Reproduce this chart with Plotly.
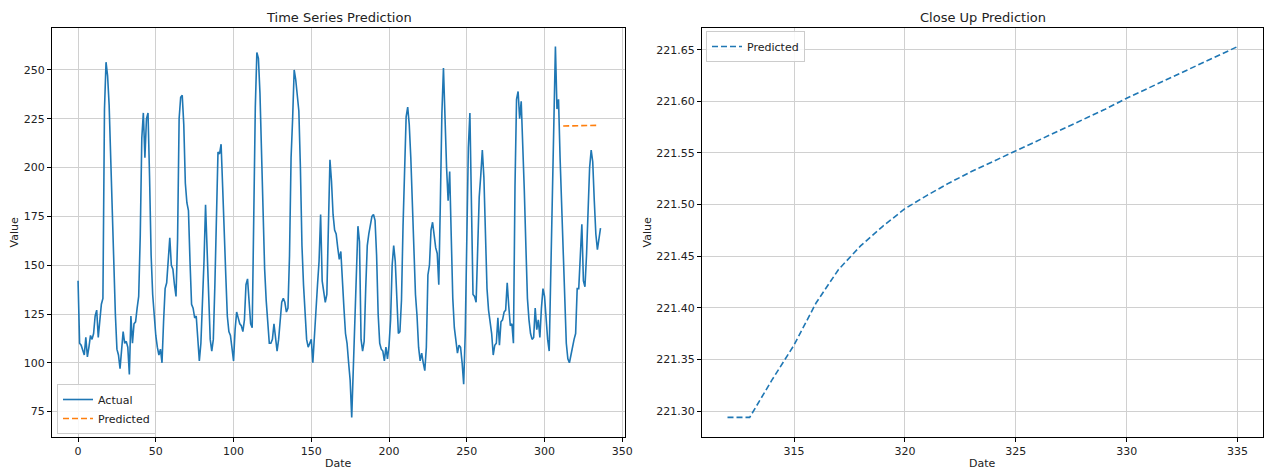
import plotly.graph_objects as go

actual_values = [
    142, 110, 109, 107, 104, 113, 103, 108, 114, 112,
    115, 124, 127, 113, 120, 130, 133, 230, 254, 247,
    232, 205, 172, 145, 125, 107, 104, 97, 106, 116,
    110, 111, 108, 94, 124, 110, 120, 121, 128, 134,
    165, 215, 228, 205, 225, 228, 195, 155, 135, 122,
    114, 108, 104, 107, 100, 121, 138, 141, 155, 164,
    150, 148, 140, 134, 163, 225, 236, 237, 222, 192,
    182, 178, 152, 130, 128, 123, 124, 112, 101, 110,
    130, 152, 181, 156, 128, 112, 106, 112, 140, 172,
    208, 207, 212, 190, 162, 145, 124, 116, 114, 108,
    101, 117, 126, 123, 120, 119, 116, 122, 140, 143,
    128, 120, 118, 185, 231, 259, 256, 238, 205, 172,
    148, 132, 118, 110, 110, 112, 120, 111, 106, 112,
    121, 131, 133, 131, 126, 128, 155, 205, 225, 250,
    245, 238, 229, 200, 160, 140, 126, 112, 108, 110,
    112, 100, 115, 126, 140, 152, 176, 142, 137, 131,
    135, 170, 204, 193, 176, 168, 166, 159, 153, 157,
    138, 128, 115, 110, 100, 91, 72, 95, 122, 150,
    170, 162, 112, 106, 111, 138, 160, 166, 171, 175,
    176, 173, 155, 125, 110, 107, 106, 101, 108, 102,
    109, 122, 150, 160, 152, 129, 115, 116, 132, 170,
    205, 226, 231, 222, 205, 180, 155, 135, 124, 108,
    101, 105, 100, 96, 108, 145, 150, 168, 172, 165,
    159, 156, 140, 182, 228, 251, 218, 200, 183, 198,
    165, 133, 118, 110, 105, 109, 108, 100, 89, 115,
    155, 210, 228, 185, 135, 134, 131, 158, 185, 196,
    209, 195, 165, 138, 127, 120, 115, 104, 109, 110,
    123, 109, 121, 122, 126, 127, 141, 129, 119, 120,
    110, 190, 235, 239, 225, 234, 214, 188, 160, 133,
    122, 115, 112, 113, 128, 117, 122, 113, 128, 138,
    134, 120, 112, 106, 145, 200, 240, 262, 230, 235,
    205, 180, 162, 135, 110, 102, 100, 104, 109, 112,
    115, 138, 138, 156, 171, 142, 139, 155, 180, 200,
    209, 203, 183, 166, 158, 165, 169,
]
actual_dates = list(range(len(actual_values)))

pred_dates = list(range(312, 336))
pred_values = [
    221.294, 221.294, 221.330, 221.364, 221.405, 221.437, 221.460, 221.479,
    221.496, 221.509, 221.521, 221.532, 221.542, 221.552, 221.562, 221.572,
    221.582, 221.592, 221.603, 221.613, 221.623, 221.633, 221.643, 221.653,
]

left_xticks = [0, 50, 100, 150, 200, 250, 300, 350]
left_yticks = [75, 100, 125, 150, 175, 200, 225, 250]
right_xticks = [315, 320, 325, 330, 335]
right_yticks = [221.30, 221.35, 221.40, 221.45, 221.50, 221.55, 221.60, 221.65]

BLUE = "#1f77b4"
ORANGE = "#ff7f0e"
FONT = "DejaVu Sans"
W, H = 1274, 469

fig = go.Figure()
fig.add_trace(go.Scatter(x=actual_dates, y=actual_values, mode="lines", name="Actual",
                         line=dict(color=BLUE, width=1.6), xaxis="x", yaxis="y", legend="legend"))
fig.add_trace(go.Scatter(x=pred_dates, y=pred_values, mode="lines", name="Predicted",
                         line=dict(color=ORANGE, width=1.6, dash="6px,3px"), xaxis="x", yaxis="y", legend="legend"))
fig.add_trace(go.Scatter(x=pred_dates, y=pred_values, mode="lines", name="Predicted",
                         line=dict(color=BLUE, width=1.6, dash="6px,3px"), xaxis="x2", yaxis="y2", legend="legend2"))

axis_common = dict(showline=True, mirror=True, linecolor="black", linewidth=1,
                   ticks="outside", ticklen=4, tickcolor="black", tickwidth=1,
                   showgrid=True, gridcolor="#d0d0d0", gridwidth=1, zeroline=False,
                   automargin=False, tickfont=dict(family=FONT, size=11, color="#222"))

l0, l1 = 52 / W, 625 / W
r0, r1 = 702 / W, 1263 / W
yb, yt = 1 - 437 / H, 1 - 28 / H

fig.update_layout(
    width=W, height=H,
    margin=dict(l=0, r=0, t=0, b=0),
    paper_bgcolor="white", plot_bgcolor="white",
    font=dict(family=FONT, size=11, color="#222"),
    xaxis=dict(domain=[l0, l1], range=[-16.75, 351.75], tickvals=left_xticks, anchor="y", **axis_common),
    yaxis=dict(domain=[yb, yt], range=[62, 271.5], tickvals=left_yticks, anchor="x", **axis_common),
    xaxis2=dict(domain=[r0, r1], range=[310.85, 336.15], tickvals=right_xticks, anchor="y2", **axis_common),
    yaxis2=dict(domain=[yb, yt], range=[221.275, 221.671], tickvals=right_yticks, tickformat=".2f",
                anchor="x2", **axis_common),
    legend=dict(x=57 / W, y=1 - 434 / H, xanchor="left", yanchor="bottom",
                bgcolor="rgba(255,255,255,0.85)", bordercolor="#cccccc", borderwidth=1,
                font=dict(family=FONT, size=11, color="#222"), tracegroupgap=0),
    legend2=dict(x=706 / W, y=1 - 31 / H, xanchor="left", yanchor="top",
                 bgcolor="rgba(255,255,255,0.85)", bordercolor="#cccccc", borderwidth=1,
                 font=dict(family=FONT, size=11, color="#222")),
    showlegend=True,
)

annos = [
    dict(text="Time Series Prediction", x=(l0 + l1) / 2, y=1 - 17 / H, font=dict(size=13)),
    dict(text="Close Up Prediction", x=(r0 + r1) / 2, y=1 - 17 / H, font=dict(size=13)),
    dict(text="Date", x=(l0 + l1) / 2, y=1 - 463 / H, font=dict(size=11)),
    dict(text="Date", x=(r0 + r1) / 2, y=1 - 463 / H, font=dict(size=11)),
    dict(text="Value", x=14 / W, y=(yb + yt) / 2, textangle=-90, font=dict(size=11)),
    dict(text="Value", x=647 / W, y=(yb + yt) / 2, textangle=-90, font=dict(size=11)),
]
for a in annos:
    fig.add_annotation(xref="paper", yref="paper", showarrow=False, xanchor="center", yanchor="middle",
                       font_family=FONT, font_color="#222", **a)

fig.write_html(
    "out.html",
    config={"displayModeBar": False},
    post_script="document.body.style.margin='0';document.body.style.padding='0';"
                "document.documentElement.style.overflow='hidden';",
)
